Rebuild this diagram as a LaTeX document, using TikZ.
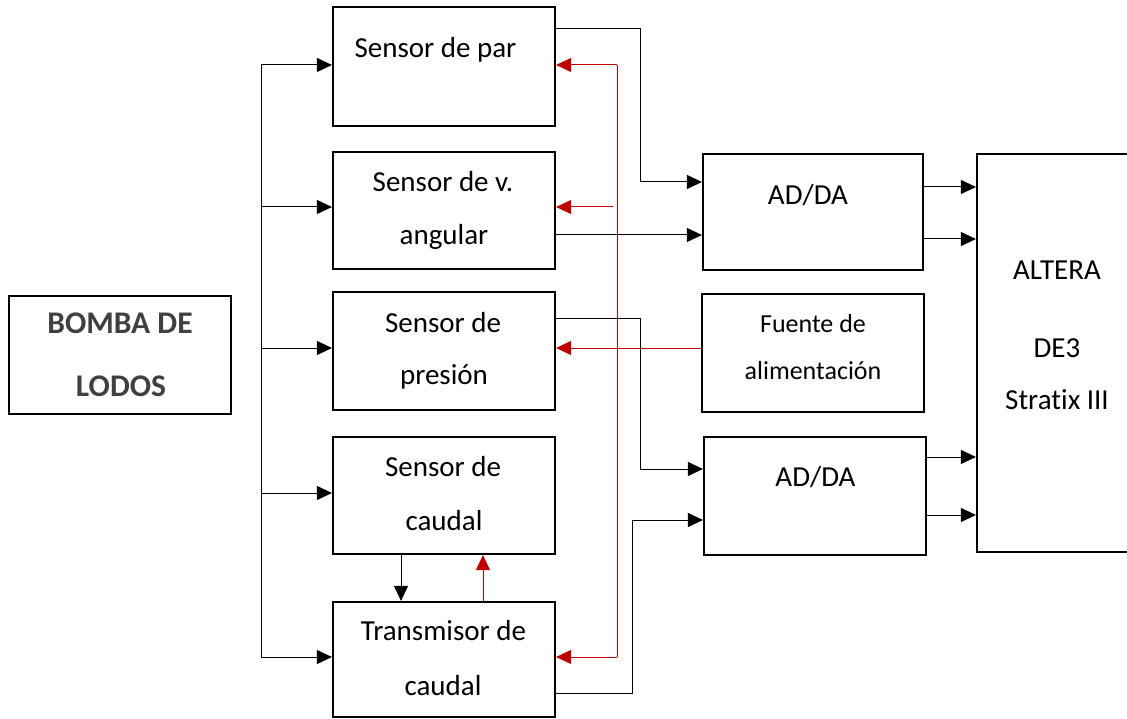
\documentclass[tikz,border=0pt]{standalone}
\usepackage{fontspec}
\setmainfont[RawFeature={-liga;-clig;-calt;-dlig}]{Carlito}
\usetikzlibrary{arrows.meta,calc}
\definecolor{dred}{HTML}{C00000}
\definecolor{bgray}{HTML}{404040}
\begin{document}
\begin{tikzpicture}[x=1pt,y=-1pt,
  box/.style={draw, line width=2.2pt, inner sep=0pt, minimum width=222pt},
  txt/.style={anchor=base, inner sep=0pt, font=\fontsize{29}{35}\selectfont},
  smalltxt/.style={anchor=base, inner sep=0pt, font=\fontsize{26}{31}\selectfont},
  boldtxt/.style={anchor=base, inner sep=0pt, text=bgray, font=\fontsize{31.5}{38}\selectfont\bfseries},
  conn/.style={line width=1pt},
  arr/.style={conn, -{Triangle[length=15pt,width=14pt]}},
  rconn/.style={conn, draw=dred},
  rarr/.style={rconn, -{Triangle[length=15pt,width=14pt]}, fill=dred}]
\useasboundingbox (0,0) rectangle (1127,719);
\clip (0,0) rectangle (1127,719);
\fill[white] (0,0) rectangle (1127,719);

% boxes
\node[box, minimum height=118pt] (bomba) at (120,355) {};
\node[box, minimum height=119pt] (spar) at (444,66.5) {};
\node[box, minimum height=117pt] (sv) at (444,210.5) {};
\node[box, minimum height=118pt] (spres) at (444,351) {};
\node[box, minimum height=117pt] (scaud) at (444,495.5) {};
\node[box, minimum height=115pt] (trans) at (444,659.5) {};
\node[box, minimum width=220pt, minimum height=116pt] (ad1) at (813,212) {};
\node[box, minimum height=118pt] (fuente) at (813,353) {};
\node[box, minimum height=118pt] (ad2) at (815,496) {};
\node[box, minimum width=180pt, minimum height=398pt] (altera) at (1067,353) {};

% texts
\node[boldtxt] (tb1) at (120,334) {BOMBA DE};
\node[boldtxt] (tb2) at (121,396) {LODOS};
\node[txt] (tp1) at (435.5,58) {Sensor de par};
\node[txt] (tv1) at (443,192) {Sensor de v.};
\node[txt] (tv2) at (444,245) {angular};
\node[txt] (tr1) at (443,332) {Sensor de};
\node[txt] (tr2) at (444,384) {presión};
\node[txt] (tc1) at (443,476) {Sensor de};
\node[txt] (tc2) at (444,530) {caudal};
\node[txt] (tt1) at (443.5,640) {Transmisor de};
\node[txt] (tt2) at (443,695) {caudal};
\node[txt] (ta1) at (808,205) {AD/DA};
\node[smalltxt] (tf1) at (813,332) {Fuente de};
\node[smalltxt] (tf2) at (813,379) {alimentación};
\node[txt] (ta2) at (815.5,486) {AD/DA};
\node[txt] (tx1) at (1057,280) {ALTERA};
\node[txt] (tx2) at (1057,357) {DE3};
\node[txt] (tx3) at (1057,409) {Stratix III};

% left bus
\coordinate (b1) at (261,65);
\coordinate (b2) at (261,207);
\coordinate (b3) at (261,348);
\coordinate (b4) at (261,493);
\coordinate (b5) at (261,657);
\draw[conn] (b1) -- (b5);
\draw[arr] (b1) -- (b1 -| spar.west);
\draw[arr] (b2) -- (b2 -| sv.west);
\draw[arr] (b3) -- (b3 -| spres.west);
\draw[arr] (b4) -- (b4 -| scaud.west);
\draw[arr] (b5) -- (b5 -| trans.west);

% red supply bus
\coordinate (r1) at (617,65);
\coordinate (r2) at (613,207);
\coordinate (r3) at (617,657);
\coordinate (rf) at (702,348);
\draw[rconn] (r1) -- (r3);
\draw[rarr] (r1) -- (r1 -| spar.east);
\draw[rarr] (r2) -- (r2 -| sv.east);
\draw[rarr] (r3) -- (r3 -| trans.east);
\draw[rarr] (rf -| fuente.west) -- (rf -| spres.east);
\coordinate (rt) at (483,600);
\draw[rarr] (rt |- trans.north) -- (rt |- scaud.south);

% caudal to transmisor
\coordinate (kt) at (401,600);
\draw[arr] (kt |- scaud.south) -- (kt |- trans.north);

% sensors to AD/DA
\coordinate (p1) at (555,29);
\coordinate (p2) at (640,182);
\draw[arr] (p1 -| spar.east) -- (p2 |- p1) -- (p2) -- (p2 -| ad1.west);
\coordinate (v1) at (555,235);
\draw[arr] (v1 -| sv.east) -- (v1 -| ad1.west);
\coordinate (q1) at (555,319);
\coordinate (q2) at (640,469);
\draw[arr] (q1 -| spres.east) -- (q2 |- q1) -- (q2) -- (q2 -| ad2.west);
\coordinate (t1) at (555,693);
\coordinate (t2) at (632,520);
\draw[arr] (t1 -| trans.east) -- (t2 |- t1) -- (t2) -- (t2 -| ad2.west);

% AD/DA to ALTERA
\coordinate (o1) at (923,187);
\coordinate (o2) at (923,239);
\coordinate (o3) at (926,457);
\coordinate (o4) at (926,515);
\draw[arr] (o1 -| ad1.east) -- (o1 -| altera.west);
\draw[arr] (o2 -| ad1.east) -- (o2 -| altera.west);
\draw[arr] (o3 -| ad2.east) -- (o3 -| altera.west);
\draw[arr] (o4 -| ad2.east) -- (o4 -| altera.west);
\end{tikzpicture}
\end{document}
